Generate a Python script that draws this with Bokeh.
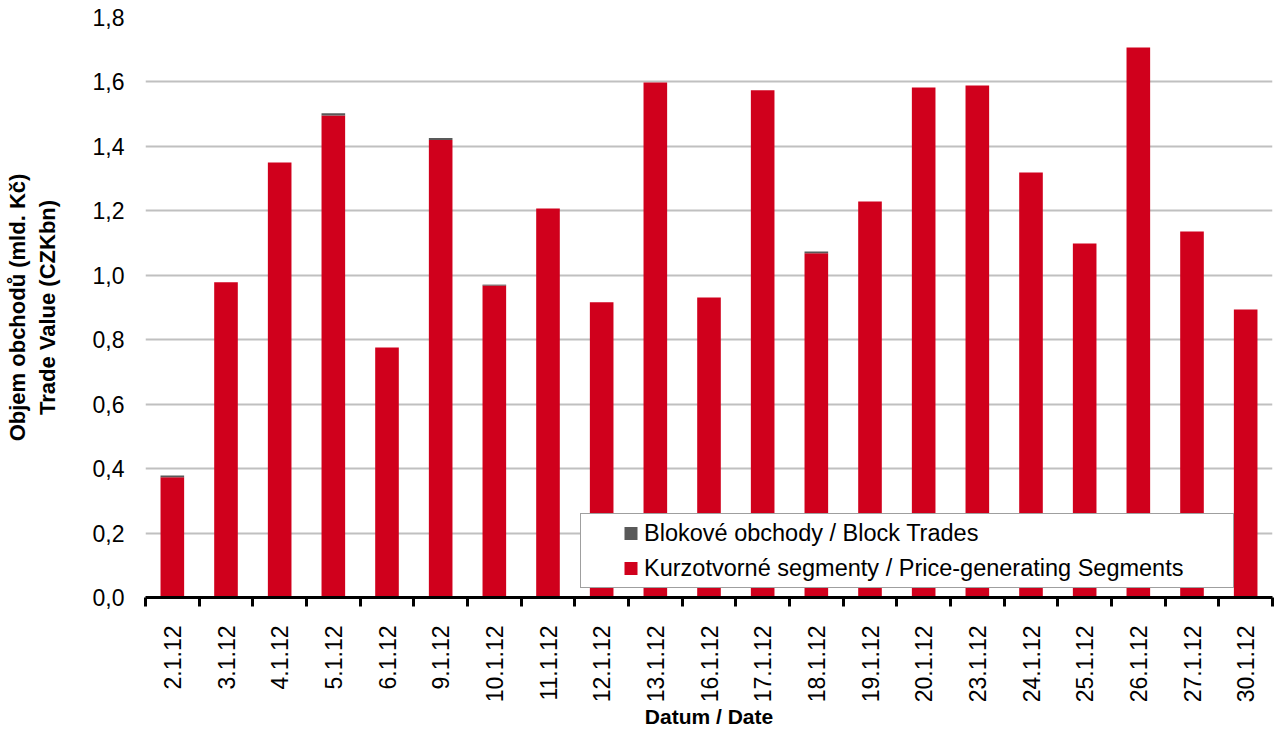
import math
import numpy as np
from bokeh.plotting import figure
from bokeh.models import (Range1d, FixedTicker, CustomJSTickFormatter, Legend,
                          LegendItem)
from bokeh.embed import file_html
from bokeh.resources import INLINE

dates = ["2.1.12", "3.1.12", "4.1.12", "5.1.12", "6.1.12", "9.1.12", "10.1.12",
         "11.1.12", "12.1.12", "13.1.12", "16.1.12", "17.1.12", "18.1.12",
         "19.1.12", "20.1.12", "23.1.12", "24.1.12", "25.1.12", "26.1.12",
         "27.1.12", "30.1.12"]
price_generating = [0.373, 0.978, 1.350, 1.496, 0.776, 1.420, 0.968, 1.207,
                    0.916, 1.598, 0.931, 1.574, 1.068, 1.229, 1.583, 1.589,
                    1.319, 1.099, 1.707, 1.136, 0.894]
block_trades = [0.006, 0.0, 0.0, 0.007, 0.0, 0.006, 0.003, 0.0,
                0.0, 0.0, 0.0, 0.0, 0.006, 0.0, 0.0, 0.0,
                0.0, 0.0, 0.0, 0.0, 0.0]
y_ticks = [0.0, 0.2, 0.4, 0.6, 0.8, 1.0, 1.2, 1.4, 1.6, 1.8]

RED = "#d0001c"
GREY = "#595959"
FONT = "Liberation Sans"

n = len(dates)
xc = [i + 0.5 for i in range(n)]
total = [a + b for a, b in zip(price_generating, block_trades)]

p = figure(width=1276, height=732, x_range=Range1d(0, n), y_range=Range1d(0, 1.8),
           output_backend="svg", toolbar_location=None,
           min_border_left=145, min_border_right=4, min_border_top=17,
           min_border_bottom=135)
p.outline_line_color = None
p.xgrid.visible = False
p.ygrid.grid_line_color = "#c0c0c0"
p.ygrid.grid_line_width = 2

p.vbar(x=xc, top=price_generating, bottom=0, width=0.44, fill_color=RED, line_color=None)
p.vbar(x=xc, top=total, bottom=price_generating, width=0.44, fill_color=GREY, line_color=None)

# x axis
xa = p.xaxis[0]
xa.ticker = FixedTicker(ticks=xc, minor_ticks=list(range(n + 1)))
xa.formatter = CustomJSTickFormatter(args=dict(labels=dates),
                                     code="return labels[Math.floor(tick)];")
xa.major_label_orientation = math.pi / 2
xa.major_tick_in = 0
xa.major_tick_out = 0
xa.major_tick_line_color = None
xa.minor_tick_in = 0
xa.minor_tick_out = 9
xa.minor_tick_line_width = 3
xa.minor_tick_line_color = "black"
xa.axis_line_width = 3
xa.axis_line_color = "black"
xa.major_label_standoff = 19
xa.major_label_text_font = FONT
xa.major_label_text_font_size = "23px"
xa.major_label_text_color = "black"
xa.axis_label = "Datum / Date"
xa.axis_label_text_font = FONT
xa.axis_label_text_font_size = "21px"
xa.axis_label_text_font_style = "bold"
xa.axis_label_text_color = "black"
xa.axis_label_standoff = 0

# y axis
ya = p.yaxis[0]
ya.ticker = FixedTicker(ticks=y_ticks, minor_ticks=[])
ya.formatter = CustomJSTickFormatter(code="return tick.toFixed(1).replace('.', ',');")
ya.axis_line_color = None
ya.major_tick_in = 0
ya.major_tick_out = 0
ya.major_tick_line_color = None
ya.minor_tick_line_color = None
ya.major_label_standoff = 21
ya.major_label_text_font = FONT
ya.major_label_text_font_size = "23px"
ya.major_label_text_color = "black"
ya.axis_label = "Objem obchodů (mld. Kč)\nTrade Value (CZKbn)"
ya.axis_label_text_font = FONT
ya.axis_label_text_font_size = "22px"
ya.axis_label_text_font_style = "bold"
ya.axis_label_text_color = "black"
ya.axis_label_standoff = 30

# legend proxies: thick dashed line segment draws a small square swatch
nan_y = np.array([np.nan])
leg_block = p.line(x=[0.5], y=nan_y, line_width=13, line_color=GREY,
                   line_dash="0 41 13 100", line_cap="butt")
leg_red = p.line(x=[0.5], y=nan_y, line_width=13, line_color=RED,
                 line_dash="0 41 13 100", line_cap="butt")
legend = Legend(items=[
    LegendItem(label="Blokové obchody / Block Trades", renderers=[leg_block]),
    LegendItem(label="Kurzotvorné segmenty / Price-generating Segments", renderers=[leg_red]),
], location=(435, 9))
legend.glyph_width = 61
legend.glyph_height = 34
legend.label_standoff = 0
legend.label_width = 587
legend.label_height = 34
legend.spacing = 1
legend.padding = 2
legend.margin = 0
legend.border_line_color = "#404040"
legend.border_line_width = 1
legend.background_fill_color = "white"
legend.background_fill_alpha = 1
legend.label_text_font = FONT
legend.label_text_font_size = "23.5px"
legend.label_text_color = "black"
p.add_layout(legend)

open("out.html", "w").write(file_html(p, INLINE))
